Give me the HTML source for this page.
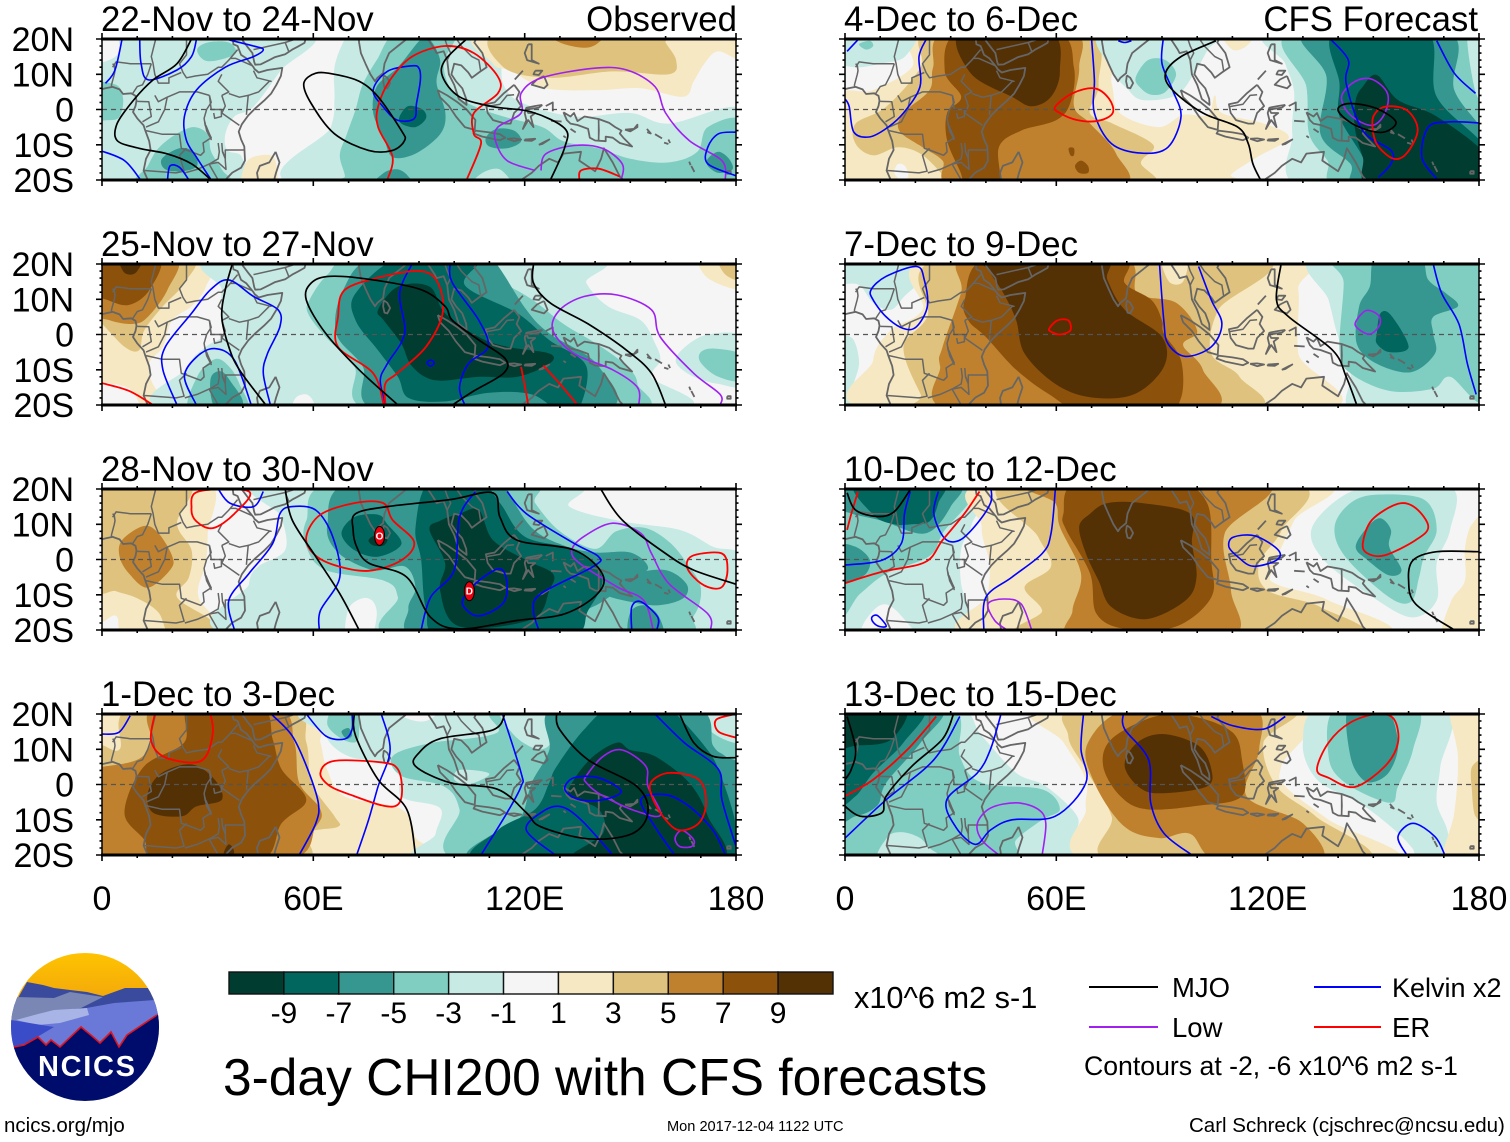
<!DOCTYPE html>
<html lang="en">
<head>
<meta charset="utf-8">
<title>3-day CHI200 with CFS forecasts</title>
<style>
html,body{margin:0;padding:0;background:#fff;}
svg{display:block;font-family:"Liberation Sans",sans-serif;}
</style>
</head>
<body>
<svg id="chart" xmlns="http://www.w3.org/2000/svg" width="1510" height="1142" viewBox="0 0 1510 1142">
<rect width="1510" height="1142" fill="#fff"/>
<defs>
<clipPath id="logoClip"><circle cx="85" cy="1027" r="74"/></clipPath>
<linearGradient id="logoSky" x1="0" y1="0" x2="0" y2="1"><stop offset="0" stop-color="#ffc400"/><stop offset="1" stop-color="#f2a60c"/></linearGradient>
</defs>
<g id="panels"></g>
<g id="colorbar"></g>
<text x="854" y="1008" font-size="30.7">x10^6 m2 s-1</text>
<g>
<line x1="1089" x2="1158" y1="987" y2="987" stroke="#000" stroke-width="2"/>
<text x="1172" y="997" font-size="27.5">MJO</text>
<line x1="1314" x2="1381" y1="987" y2="987" stroke="#0000ff" stroke-width="2"/>
<text x="1392" y="997" font-size="27">Kelvin x2</text>
<line x1="1089" x2="1158" y1="1027" y2="1027" stroke="#a020f0" stroke-width="2"/>
<text x="1172" y="1037" font-size="27.5">Low</text>
<line x1="1314" x2="1381" y1="1027" y2="1027" stroke="#ff0000" stroke-width="2"/>
<text x="1392" y="1037" font-size="27.5">ER</text>
<text x="1084" y="1075" font-size="26.65">Contours at -2, -6 x10^6 m2 s-1</text>
</g>
<text x="223" y="1095" font-size="51.5">3-day CHI200 with CFS forecasts</text>
<text x="4" y="1132" font-size="20.5">ncics.org/mjo</text>
<text x="667" y="1131" font-size="14.6">Mon 2017-12-04 1122 UTC</text>
<text x="1189" y="1132" font-size="20.5">Carl Schreck (cjschrec@ncsu.edu)</text>
<g clip-path="url(#logoClip)">
<rect x="10" y="952" width="150" height="50" fill="url(#logoSky)"/>
<polygon fill="#3a4a9c" points="0,1030 27,982 43,985 54,988 70,990 87,992 103,996 125,988 149,988 170,1000 170,1030"/>
<polygon fill="#7a86b4" points="5,1000 16,997 54,998 70,992 103,997 81,1008 49,1012 5,1024"/>
<polygon fill="#6a78d8" points="5,1024 49,1012 81,1009 114,1003 155,1000 170,1010 170,1060 0,1060"/>
<polygon fill="#a8b4e6" points="16,1020 38,1014 54,1010 87,1008 89,1015 60,1023 38,1025"/>
<polygon fill="#3b4cc8" points="5,1022 11,1020 54,1027 27,1043 14,1047 5,1050"/>
<polygon fill="#000c6c" points="5,1048 14,1047 24,1045 38,1037 46,1045 51,1040 60,1047 81,1027 92,1036 100,1043 111,1032 119,1047 127,1035 157,1015 170,1008 170,1110 5,1110"/>
<polyline fill="none" stroke="#e0141c" stroke-width="1.6" points="14,1047 24,1045 38,1037 46,1045 51,1040 60,1047 81,1027 92,1036 100,1043 111,1032 119,1047 127,1035 157,1015"/>
<text x="38" y="1076" font-size="29" font-weight="bold" fill="#fff" textLength="97" lengthAdjust="spacing">NCICS</text>
</g>
</svg>
<script>
/* ---------- colour scale ---------- */
const colorLevels = [-10,-8,-6,-4,-2,0,2,4,6,8,10];
const colorValues = ['#003c30','#01665e','#35978f','#80cdc1','#c7eae5','#f5f5f5','#f6e8c3','#dfc27d','#bf812d','#8c510a','#543005'];
const colorbarLabels = ['-9','-7','-5','-3','-1','1','3','5','7','9'];

/* ---------- axes ---------- */
const lonTicks = [0,60,120,180];
const lonTickLabels = ['0','60E','120E','180'];
const latTicks = [20,10,0,-10,-20];
const latTickLabels = ['20N','10N','0','10S','20S'];

/* ---------- panel titles ---------- */
const panelTitles = ['22-Nov to 24-Nov','25-Nov to 27-Nov','28-Nov to 30-Nov','1-Dec to 3-Dec','4-Dec to 6-Dec','7-Dec to 9-Dec','10-Dec to 12-Dec','13-Dec to 15-Dec'];
const panelNotes = ['Observed','','','','CFS Forecast','','',''];

/* ---------- filled CHI200 regions: [level, lon,lat pairs] ---------- */
const fills22Nov = [
[-2,[-2,22,58,22,50.5,10.8,43,.8,37.6,-2,35,-7,35.6,-11.6,39.7,-13.5,39,-22,-2,-22]],
[0,[-3,23,3,23,5,17,2,14,-3,14]],
[-2,[72,22,69,20,66,12,66,3,65,-5,58,-22,182,-22,182,0,161,-4,150,-1,134,-2,119,2,114,7,113,14,109,22]],
[-4,[-3,7,4,7,6,3,5,-2,2,-3,-3,-2]],
[-4,[27,17,30,19,36,19,38,16,33,14,29,14]],
[-4,[10,-22,13,-16,16,-11,21,-7,26,-5,30,-7,31,-12,34,-17,36,-22]],
[-4,[84,22,78,14,74,7,72,0,69.5,-7,67.5,-13,69,-19,68,-22,182,-22,182,-3.5,172,-5,169,-12,161,-15,150,-14,141,-11,131,-9,125,-5,114,-2,105.5,1,99.5,5,97,13,100,22]],
[-2,[105,-22,108,-18,113,-17,116,-22]],
[-6,[90.6,20,84,12,78,6.5,77,-1,80,-8,82.5,-13.5,89,-12.5,96,-7,97.5,-1,95,7.5,96,14,93,20]],
[-6,[77,-22,80,-18,84,-17,87,-19,88,-22]],
[-6,[109,-8,112,-5.5,117,-6,119,-9,115,-11,110,-10.5]],
[-6,[17,-14,22,-11,26,-12,27,-16,23,-17.5,18,-17]],
[-6,[172,-14,175,-12,178,-14,179,-17,175,-18,172,-16]],
[-8,[84.5,-2,87,1,91,0,92,-2.5,89,-5,85,-4]],
[2,[110,22,111,13,116,11,126,6,141,5.5,153,6,165,3.6,168,8,171,13,175,16.5,182,14,182,22]],
[2,[40,-22,41,-15,45,-13,49,-14,49,-22]],
[4,[113,22,114,12,127,9,145,10.8,161,10,163,14,160,19,159,22]],
[6,[127,22,130,19,137,17.5,141,19,142,22]]
];
const mjo22Nov = [
[25.4,20,21.3,13,14.5,8.4,9,2.7,4.3,-4,4.3,-8.8,10.5,-11,18.6,-12.6,25.4,-15.4,31,-20],
[60.7,10.3,57.3,7.4,59.4,1.7,66,-6.9,75.7,-11.6,82.5,-11.6,85.9,-8.8,85,-6,78.4,3.6,73,8,66,10],
[103.5,20,97.4,14,96.7,9.3,101.5,3.6,111,.8,122,-.7,131.4,-5.4,131.4,-10.7,127.3,-20]
];
const kelvin22Nov = [
[5.7,20,3.7,11.2,1,7.4],
[10.7,20,11.1,13,13.2,8.4,21.3,11.2,25.4,15,26.8,19.8],
[35,20,43,18,45.8,17,43,15,35,12,26.8,5.5,23.4,-2,24,-8.8,26.8,-13.5,31,-20],
[0,-11.8,6.4,-14.5,11,-20],
[18.6,-20,19.3,-16,22,-16.4,24.7,-20],
[88,12.4,81,10.8,77,5.5,79.8,.8,83.8,-3,88.6,-2.6,89.3,1.7,90.4,8.4,90,11.7],
[180,-6.4,175,-6.9,172,-10.7,172,-15.4,180,-18.8]
];
const er22Nov = [
[81,-20,82.5,-13.5,78.4,-5,78.4,.8,81.8,8.4,88,15,97.4,18,105.6,16,112.4,9.3,112.4,4.6,105.6,-1,105.6,-7,107.6,-9.7,103.5,-20],
[135.5,-20,136,-17.3,141,-16.8,147,-19]
];
const low22Nov = [
[123,-17.3,115,-14.5,111.7,-8.8,112.4,-5,119,-1,119,4.6,124.6,8.9,139.5,11.7,149,11.2,157,6.5,160,-1,166.7,-8.8,176,-14.5,177,-20],
[124.6,-17.3,126,-12.6,134,-10.2,142,-11,147.7,-15.4,147.4,-20]
];

const fills25Nov = [
[2,[-2,22,30,22,29.5,13.6,25.4,8,19.9,4,17.3,-3.5,13.5,-8,14.4,-14,20,-22,12.5,-22,8,-15.5,0,-13.5,-2,-13.5]],
[4,[-2,22,25,22,23.4,14.6,17.3,8,12,1.2,10.5,-4.5,6.4,-3.5,0,3,-2,4]],
[6,[-2,22,20.6,22,18.6,12.7,13,5,9,3,2.3,4,-2,7]],
[8,[-2,22,16,22,13.5,12.7,7.7,8.4,1.6,9.8,-2,12]],
[10,[5,22,6,18,8,17,10,18,11.5,22]],
[-2,[36,22,34,12.7,34,5,35,0,29.5,-3.5,24.7,-9,23.4,-22,159,-22,156,-12,158.5,-7.3,157,-2.5,153,4,143.6,8,137.5,14.6,136,22]],
[0,[54,-22,55,-18,58,-17,60,-19,60,-22]],
[-2,[182,-1,172,0,165,-4,163,-8,168,-12,175,-14,182,-14]],
[-4,[182,-6,174,-4,170,-5,170,-8,175,-12,182,-13]],
[2,[170,22,172,16,182,13,182,22]],
[4,[175,22,177,17,182,15.5,182,22]],
[-4,[25,-22,27,-12,32,-7,36,-9,39,-14,41,-22]],
[-6,[31,-18,31,-12,34,-10.5,37,-14,40,-19,38,-22,33,-22]],
[-4,[72,22,64,17,59,10,58.5,6,63.5,-.7,71.6,-9,78.4,-22,150,-22,152,-14,149,-9,141,-3,131,3,122,10,110,17,105,22]],
[-6,[78,22,68.5,12.7,66.5,.3,74,-9,80,-22,141.5,-22,141,-9,127,.3,120.5,7,112,20,108,22]],
[-8,[85,22,72,11.7,72,4,78.4,-4.5,84,-12,87,-18,97,-19,110,-16.5,122,-17,130,-22,135,-22,137.5,-9,127,-1.6,118,6,103,14,107,22]],
[-10,[78.4,7,84,13.6,93,13.6,97.4,6,107,-.7,115,-3.5,127,-5.4,127,-8.3,118,-12,107,-12,94.7,-13,88,-9,85,-2.6,80,4]]
];
const mjo25Nov = [
[37,20,35,12.7,34,5,36,-3.5,39,-10,46.5,-20],
[84,-20,73,-10,63.5,.3,58,9.8,59.4,14.6,64.8,16.5,77,15.5,90.6,12.7,97.4,8,99.5,4,107,-1.6,114.5,-6.9,114,-11,105.6,-16,99.5,-20],
[122.5,20,122.5,14.6,127.3,8.9,138,3,149,-4.5,156,-11,160,-20]
];
const kelvin25Nov = [
[21.3,-20,17.3,-10,18,-3.5,25.4,6,30.8,12.7,36,15.5,43,10.8,50,7,50.5,2.2,47,-5.4,45.8,-11,47.8,-20],
[26.8,-20,23.4,-12,26.8,-6.4,32,-4,37.6,-7.3,42.4,-20],
[88,20,84.5,11.7,85.9,.3,81,-8.3,79,-13,80.5,-20],
[98.8,20,99.5,14.6,107,4,109.6,-3.5,104,-8.3,101.5,-15,103,-20],
[92.3,-8,93.3,-7.3,94.3,-8,93.3,-9]
];
const er25Nov = [
[0,-13.8,7.7,-16,14.5,-20],
[80,-20,77,-11,67,-3.5,67,5,69,12.7,80,16.5,90.6,18,95.4,14.6,96.7,6,92,-3.5,83.8,-11,80.4,-14,80.5,-20],
[119,-9.2,120.5,-17,121,-20],
[125.3,-8.8,130,-14,135,-20]
];
const low25Nov = [
[152.4,-20,152,-15,145,-10,134,-5.4,128,1.2,130,7,137,10.8,146.3,11.2,156,7,158.5,-.7,168,-11,175.5,-17,175.5,-20]
];

const fills28Nov = [
[2,[-2,22,30,22,30,7.4,29.5,-1,27.4,-10.7,35,-22,8,-22,4,-16,-2,-15]],
[4,[-2,22,24.7,22,21.3,10.3,25.4,2.7,24.7,-5,21.3,-10.7,31,-17.3,32,-22,20,-22,16,-15,10,-11,4,-9,-2,-7]],
[6,[11.8,9.5,5.7,5.5,5,.8,7.7,-4,13,-8,19.3,-3,20,.8,16,7.5]],
[-2,[47,22,51,12,52,2.7,44.4,-2,41.7,-7,41,-22,182,-22,182,0,173.5,3.6,164,8.4,147.7,10.8,132.7,15,131,22]],
[0,[69.5,-22,70,-14,74,-11,77,-12,78,-16,76,-22]],
[-4,[66,22,58,11,58,3.6,63.5,-3,80,-6,84,-10.7,84,-22,160,-22,168,-16,170,-8,166,-1,161,5,154,9,146,8,140,3,130,8,123,16,120,22]],
[-6,[71,22,64,10,67,2,77,-3,86,-2,89,-8,87,-14,90,-22,132,-22,137,-15,142,-12,152,-5,155,-2,150,2,140,2,131,4,122,9,115,20,115,22]],
[-6,[140,-6,150,-4,160,-3,166,-7,165,-11,158,-13,150,-12,143,-10]],
[-6,[150,-22,150,-15,154,-13,158,-16,159,-22]],
[-8,[71.6,12,68,7.4,71.6,2.7,78.4,.8,85,4.4,81,10,78.4,12.7]],
[-8,[93,22,89,9,90.6,0,92,-14,97,-22,132,-22,138,-14.5,142,-5,134,2.7,120,6.5,113,16,107,22]],
[-10,[93,8.4,97.4,-1,96,-8.8,101.5,-19,122,-17,127,-8.8,128,-4,120.5,-.2,111,5.5,107,14,101.5,13,96,11]],
[-10,[75.7,5.5,78,7,81,6,80,4,77,4]]
];
const mjo28Nov = [
[52,20,54,11.2,60.7,.8,67.5,-9.7,73,-20],
[71.3,8.4,72,13,81,15,98.8,17,111,18.9,113,12,117.8,5.5,134,2.7,142,-4,140.7,-9.7,131.4,-15.4,117.8,-17.3,101.5,-19.7,93.3,-16.4,86.5,-5,75.7,-1,72.3,3.6],
[141.6,20,147.7,11.2,160,1.7,168,-3,180,-7]
];
const kelvin28Nov = [
[33,20,36.3,16,43,15,45.8,19.3],
[37.6,-20,36,-11.6,41.7,-4,48.5,4.6,50.5,13,54,15,60.7,14,65.5,6.5,67.5,-5,62,-14.5,61.7,-20],
[90.6,-20,93.3,-10.7,100,-3,101.5,12,106,19.3],
[102.8,-10.7,107,-6,113,-2.6,115,-7,113.7,-12.6,107,-16,102.8,-13.5],
[115,19.3,120.5,13,134,4.6,141,.8,139.5,-2,124.6,-9.7,122.5,-14.5,124,-20],
[150.4,-20,150.4,-13.5,153,-12,157.8,-16.4,157.5,-20]
];
const er28Nov = [
[25.4,14.6,27.4,19.3,41.7,19.3,37.6,13,31.5,8.9,26.8,10.8],
[58,6.5,62,12.7,71.6,16,79.8,16,82.5,11.2,88.6,5,85,-.2,75.7,-3.2,66,-1.6,60,1.7],
[166,-1.6,168,1.2,176,1.7,177.6,-3,176,-7.8,172,-7.8,168,-5]
];
const low28Nov = [
[172.8,-20,172,-15.4,161,-6.9,156,1.7,153,7.4,145,10.3,136.8,6.5,133.4,2.7,135.5,-1,146.3,-7.8,153.8,-11.6,156.5,-20]
];
const stormLons = [78.8,104.3];
const stormLats = [6.7,-9];
const stormMarks = ['O','D'];

const fills1Dec = [
[2,[-2,22,59,22,62,12,64,4,69,-3.4,85,-7,89,-15,90,-22,-2,-22]],
[4,[9,22,5,10,-2,9,-2,-22,55,-22,58,-14,67,-12,66,-9,59.5,.5,58,12,52.6,22]],
[6,[15.5,22,14,12,10,7,0,5,-2,5,-2,-22,51,-22,60.7,-12,62,-7,56,.5,54.6,12,49,22]],
[8,[25,22,23.4,12,11.8,5,6.4,-8,12,-15.7,16,-22,44.4,-22,51,-11,58,-4.3,51,4.3,48.5,12.7,45,22]],
[10,[13,-2.4,17,3.3,25.4,5.7,32,1.4,34,-4.3,26.8,-6.2,22.7,-9,14.5,-8]],
[10,[34.5,-20,36,-17,37.5,-19,36.5,-22]],
[-2,[65,22,63.5,14,70,8,84,5,85,-3.4,96,-6.7,94.7,-14,94,-22,182,-22,182,22]],
[0,[84,22,86,19,92,18,96,22]],
[-4,[66,22,64,17,68,13,72,12,73,15,72,22]],
[-4,[115,22,112,14.6,93,11.7,82.5,8,85,2.4,97,-.5,101.5,-7,103,-22,182,-22,182,22]],
[-2,[101,4,106,4,110,3,107,1,103,0,100,1.5]],
[-2,[113,22,117,14,124,10,128,13,127,22]],
[-2,[172,22,173,15,182,12,182,22]],
[-6,[129,22,127,9.8,122,.5,119,-9,112.4,-13,108,-22,182,-22,182,3,177,8,173.5,11,168,22]],
[-8,[145,22,136.8,15.5,129,5,127,.5,123,-7,112.4,-13,109,-22,178,-22,180,-12,175,4.3,171,11,163,20,160,22]],
[-10,[146.3,11.9,139.5,8,134,1.4,132.8,-3.3,141,-7,142.3,-13.8,134,-22,175,-22,172,-9,166.7,.5,157,8,150,9.8]],
[-6,[68,15,70,16,71,14,69.5,13]]
];
const mjo1Dec = [
[71.6,20,72,13.8,78.4,1.4,86.5,-7,89,-20],
[114.4,20,111,15.5,96,13,90,9,89,5.2,98.8,.5,112.4,-1.4,120.5,-8,124.6,-12,138,-15.4,150.4,-14,155,-8,151.8,-.5,138,7,130,15.5,129,20],
[164,20,168,11.9,173.5,8,180,7.6]
];
const kelvin1Dec = [
[0,14.3,4.8,14.8,8,19.5],
[48,20,54,13.8,58.4,4.3,61.4,-5.2,60.7,-11,56,-20],
[58,20,63.5,13.8,68.9,12.9,71,15.7,71,20],
[79.3,20,81.8,9.8,78.4,-.5,75.7,-10,72.3,-20],
[113.7,20,119,3.3,119,-.5,115,-8,107.6,-20],
[128.7,-20,120.5,-13,124.6,-8,130,-6.2,136,-10,145,-20],
[131.4,-1.4,134,1.9,141,1.9,147.4,-1.9,142.3,-4.3,135.5,-4.3],
[157,20,165.3,11.9,175,4.3,176,-4.3,180,-17.6],
[162.6,-20,157,-12,153,-4.3,160,-2.9,166.7,-6.2,173.5,-13,177,-20]
];
const er1Dec = [
[15,20,13.9,12.7,17.3,8,25.4,6.2,29.5,8,31.5,14.8,30.8,20],
[62,3.3,66,6.7,79.8,6.2,84,4.3,85.2,-1.4,84,-5.7,79.8,-6,71.6,-3.3,64.8,-.5],
[155.8,.5,161,3.3,169.4,1.4,171.5,-5.2,169.4,-11,164,-13,160,-10,156.5,-4.3],
[180,13.3,175,15,174.4,18.4,180,20]
];
const low1Dec = [
[137.5,2.4,142.3,8,147.7,9.8,154.4,5.2,155,-.5,158.6,-8.6,151.8,-7.6,142.3,-3.3,137.5,.5],
[162.7,-15.2,164.7,-13,168,-15.7,167.4,-17.6,164,-17.6]
];

const fills4Dec = [
[2,[-2,3,8,5.5,19,12,22,22,72,22,75.7,7.4,78,-1,89,-5,96,-1.5,103,-1.6,105,4,107,-1,119,-4,126,-8,117,-13.5,109.6,-18.5,109,-22,-2,-22]],
[0,[14,-18,15,-15.5,17,-16,18,-19,16,-20]],
[2,[107,22,110,17,114,18,116,22]],
[4,[24.6,22,21.5,12,11.7,.8,3,-4,3,-9.7,8,-13,15,-10.7,21.5,-12.6,27.7,-18.5,30,-22,85,-22,84,-15,87.5,-10,76,-4,69.5,-1,72,7.4,68,22]],
[6,[29,22,25,12,24,5.5,16.6,-1,15.4,-6,22,-10.7,27.7,-14.5,32,-22,77.5,-22,77,-12.6,69.6,-4,65,1,66.5,12,64,22]],
[8,[32.6,22,28.3,11,33,3.6,29,-1,29,-8.8,32.6,-17.3,35,-22,43.7,-22,43.7,-10.7,50,-6,60,-3,64,2,65,12,60,22]],
[10,[33,22,35.7,10.3,47.4,3.6,53,.9,58.5,3.6,61,11,58,22]],
[8,[65.3,-16,67,-14.5,69,-16,69,-18,66.5,-18]],
[8,[63.5,-11,65,-11,65,-13,64,-13]],
[-2,[-2,22,19,22,17,15,10,13,3,12,-2,14]],
[-2,[73,22,76,11,80,6,84.4,2.7,94,4,99,10,103,17,106,22]],
[-4,[82.5,9,86,14,91,14,94,10,91,5,87,4.2,84,6]],
[-4,[4,18.5,7,19.5,8,18,6,17]],
[-2,[122,22,125,13,127.5,5,127,-7,130,-22,182,-22,182,22]],
[-4,[127,22,131,6.5,131.8,-7,137,-14.5,141,-22,182,-22,182,22]],
[-2,[176.7,22,179,5,182,4,182,22]],
[-6,[131,22,136.7,9.3,135,-7,143.5,-15.4,146.5,-22,182,-22,182,-8,173,5.5,171,22]],
[-8,[139,22,140.4,7.4,140.4,-2,147,-13.5,150,-22,182,-22,182,-11,168,3.6,165,22]],
[-10,[147,6.5,151,9.8,157,2.7,168,-2,182,-13,182,-22,150,-22,147,-13.5,144.7,-5,145,2.7]]
];
const mjo4Dec = [
[105.3,19.5,95.4,15,91,10.3,93,5.5,101.6,-1,111.5,-5,114.5,-9.7,115.8,-15.4,118,-20],
[140,.3,143.5,1.7,150.9,.3,156.4,-3.5,153,-6.4,147,-5.4,142,-2.6]
];
const kelvin4Dec = [
[3.7,19.8,.6,16.5],
[23,19.8,21,15,21.3,6.5,16.6,-1,11.7,-5.4,6.8,-7.8,2.5,-6.4,1.2,.8,0,3],
[70,20,70.8,8.4,70.8,-1,75.7,-9.7,84.4,-12.4,91.7,-10.7,95.4,-2,93,5.5,90,13,90.3,19.8],
[77.6,19.5,79.4,19,81.3,19.5],
[138,19.8,142.9,14,142.3,7.4,147,-6,155,-11.6,155,-15.4,151.5,-19.2],
[168,19.5,173,10.3,179,4.6],
[168,-19.7,163.8,-13.5,165.6,-5,171.8,-3.5,180,-3.8]
];
const er4Dec = [
[59.7,.8,64.6,4.6,70.8,6,75,3,76,-1,72,-3.2,66,-3,61,-1],
[150,-2,153.3,.8,159.5,-.2,162.6,-5.8,159.5,-12.4,155.8,-14,151.5,-10.6,150,-6.8]
];
const low4Dec = [
[141,3.6,144.7,7.9,149.6,8.6,154,4.6,153.3,-1,149.6,-4.5,143.5,-1.6]
];

const fills7Dec = [
[-2,[-2,22,22,22,22,16,17,11,13,7,8,9,4,14,-2,15]],
[-2,[-2,-3,2,-1,4,-8,2,-16,3,-22,-2,-22]],
[2,[26.5,22,22,7,13,1.2,8,-7.3,10.5,-22,133.5,-22,128.7,-5.4,128.7,12.7,125,22]],
[4,[29,22,23.4,5,16.6,-3.5,21.5,-17,25,-22,112.7,-22,112,-12,104,-5.4,106,7,117.6,22]],
[2,[90,22,92,15,96,15,97,22]],
[6,[35,22,33,12,27.7,-3.5,27,-9,31.4,-22,101.6,-22,101.6,-10,96,-3,100,1,94,9,83,11.7,78,22]],
[8,[41,22,34,10,35,4,40,-.7,48.6,-10,58,-17,68,-22,90,-22,95.4,-18,95.4,-7.3,90.5,.3,90,4,87,9.8,79.4,14.6,78,22]],
[10,[40,22,41,18,45,11.7,48.6,4,51,-5.4,59.7,-14,69.6,-17.8,82,-17,90.5,-9.2,90,-.7,79.4,7,74.5,15.5,72.7,22]],
[-2,[133.6,22,137.3,9.8,139.7,.3,143.5,-11,145.3,-22,182,-22,182,22]],
[-4,[140.4,22,141.6,14.6,140.4,-4.5,143.5,-11,154.6,-16,166.9,-15.4,171.8,-12,182,-17.8,182,22]],
[-6,[150.9,22,149,13.6,146,8,145.3,-2.6,151,-8.3,160.7,-10.7,167.5,-5.4,167,.3,167,5,174,8,170.6,11.7,165.6,15.5,163,22]],
[-8,[151,.3,152,6,155,5.5,160,-3.5,154.6,-5,151,-2.6]]
];
const mjo7Dec = [
[123.8,20,122.5,9.8,126,5,138.5,-4.5,142.3,-12,145.3,-20]
];
const kelvin7Dec = [
[7.4,12.7,11.7,16.5,20.3,19.3,22.5,15.5,23.4,8,20.3,2.2,16.6,1.7,11.7,5,8,9.8],
[89.3,20,90.5,4,91.7,-2.6,96.7,-6.2,104,-3.5,107,3,104,9.8,100.4,19.3],
[167,20,169.4,11.7,174.3,3,176.7,-8.3,179.2,-17]
];
const er7Dec = [
[58,1.7,60.3,4,63.4,4,64,1.2,61,0,58.5,.8]
];
const low7Dec = [
[145,3.6,148,6.8,151.4,5.5,151.8,2.7,149,.1,145.6,1.7]
];

const fills10Dec = [
[-2,[-2,22,38,22,36,10,33,3,33,-7,36,-18,30,-22,22,-22,14,-14,10,-13,6,-17,3,-22,-2,-22]],
[-4,[36,22,27.7,7.4,24,1,11.7,-4,4.3,-9.7,-2,-15,-2,22]],
[-6,[-2,3.6,3,3.6,7,0,6,-4,2,-6,-2,-6]],
[-6,[-2,22,31,22,30,15,22.8,7.4,10.5,11,2,13,-2,15]],
[-8,[3,22,8,12.7,14,10,19,10,24,10.8,26.5,16,27,22]],
[2,[42,22,38.8,9.3,41,-1,40.6,-10,39,-22,150,-22,137.3,-11.6,122.5,-7,121.3,-3,127.5,11,133.6,22]],
[4,[46.8,22,54.8,6.5,58.5,-2,51,-7.8,56,-14.5,53.6,-22,142.5,-22,135,-13.5,120,-8.8,117.6,-1,124,8.4,126.5,22]],
[6,[53,22,59.7,16,61,9.3,67,-4,64.6,-14.5,66,-22,109,-22,109.6,-8.8,107.8,7.4,118.8,22]],
[8,[66,22,62,13,62.8,8.4,69.6,-4,71.4,-15.4,79.4,-19.7,94,-19,104,-10.7,104,-.2,102.8,16,93,22]],
[10,[66.5,9.3,69.6,13,74.5,16,84.4,16,98,13,98.5,4.6,99.8,-5,96.7,-11.6,85.6,-16.9,75.7,-13.5,72,-6,68.4,1.7]],
[-2,[149.6,20.5,139.8,17,132.4,8.4,136,-.2,148.4,-9.7,160.7,-16.4,168,-11.6,168,-1,171.8,8.4,172,20.5]],
[2,[170,-22,172,-12,176,-6,176,3,178,10,182,10,182,-22]],
[-4,[139,9.3,142,.8,154.5,-10.7,160.7,-12,163,-5,164.4,.8,168,8.4,164.4,17,151,18.4,143.5,16]],
[-6,[145,3.6,148.4,9.3,152,11.7,155,8.4,154.5,3.6,158,-3,154.5,-4.5,148.4,-.2]]
];
const mjo10Dec = [
[.6,18.9,3,14,9.2,12.2,14,13.6,18.5,19.8],
[180,2.2,168,2.2,161.3,-.2,160,-5.9,162,-12.6,173,-20]
];
const kelvin10Dec = [
[18.5,19.3,16.9,13,16,4.6,10.5,-.2,0,-1.6],
[26.5,19.3,25.2,13,28.3,6,32.6,5.5,37.6,10.3,41.3,16,41.5,19.8],
[59.7,19.8,58.5,7.4,56,1.7,47.4,-5,40,-10.7,39.4,-20],
[109,3.6,110.2,6.3,116.4,6.7,123,2.7,122.5,-.2,115.8,-1.9,111.5,.8],
[7.6,-16.4,9.2,-15.9,11.7,-18.8,9.8,-19,8,-17.8]
];
const er10Dec = [
[3.7,19.3,1.8,13,.6,8.4],
[0,-6.7,10.5,-3.5,22.8,-.7,27.7,5.5,33.9,13,38.2,19.3],
[147,4.6,149.6,11.2,157,15.8,162,14.6,165.6,9.3,162,5.5,153.3,1.2,148.4,1.7]
];
const low10Dec = [
[46,-20,42.5,-17.3,40.6,-12.6,45,-11.2,50,-12.6,53,-20]
];

const fills13Dec = [
[-2,[31,22,38.8,13.8,48.6,3.3,57,-.5,65.9,-9,64.6,-14.8,61,-22,-2,-22,-2,22]],
[-4,[30,22,32.6,8,38.8,.5,56,-1.4,61,-7,56,-10,48.6,-15.7,45,-22,-2,-22,-2,22]],
[-2,[10,-22,12,-15,16,-13.5,21,-15,24,-18,28,-22]],
[-6,[27,22,21.5,11.9,11.7,.5,9.2,-6,3,-9,-2,-8,-2,22]],
[-8,[22,22,16.6,11.9,8,3.3,3,-3.3,-2,-4,-2,22]],
[-10,[17,22,13,12.7,3,11,-2,11,-2,22]],
[2,[56,22,62,12,68.4,1.4,68.4,-7,70.8,-22,155,-22,137.3,-10,125,-.5,123.8,5.2,129.3,22]],
[4,[67.7,22,63.4,13.8,68.4,4.3,75.7,-9,77,-22,147.2,-22,133.6,-9,122.5,-.5,118.8,11.9,126.2,22]],
[6,[82,22,69,11.9,70.8,.5,79.4,-12,89.3,-15.2,98,-14,106.5,-22,134.8,-22,130,-11,114,-3.3,117.6,10,115,22]],
[8,[88,19.3,75.7,12.9,73.3,5.2,78.2,-3.3,85.6,-7,100.4,-6,112.7,-3.3,112.7,7,110,14.8,99,19.3]],
[10,[79.4,5.2,83,11.9,90.5,14.3,100.4,11,104,4.3,102.8,-.5,91.7,-2.4,84.4,-1.4]],
[-2,[136,22,130,12,134,1.4,146,-5.2,155,-12,161,-18,163,-22,172,-22,171,-13,168,-5,169,5,170.5,22]],
[2,[172,22,174,8,173,-8,170,-22,182,-22,182,22]],
[4,[178,5,182,6,182,-9,179,-9,178,-2]],
[-4,[139.8,22,137.3,8,142,.5,154.6,-5.2,157,-.5,161.3,10,162,22]],
[-6,[143,22,143.5,8,147,1.4,151,1,155,4.3,157,12,153.3,22]]
];
const mjo13Dec = [
[30.8,20,27.7,12.9,19,5.2,11.7,-3.3,10.5,-8,4.3,-9,0,-6.2],
[.6,19.3,3,10,1.8,4.3,0,1.4]
];
const kelvin13Dec = [
[0,-15.2,11.7,-4.3,25.2,7,32.6,19.3],
[44.3,20,41.3,10,37.6,3.3,28.9,-4.3,31.4,-12,37,-17,41.3,-12.9,47.4,-10,59.7,-9,68.4,.5,67,10,67.7,20],
[79,20,79.4,15.7,86.2,7,86.8,-5.2,90.5,-13.8,98.5,-20],
[104,19.3,110,16.7,118.8,15.7,125,19.3],
[159.5,-20,157,-14.8,161.3,-11,167.5,-14.8,170.3,-20]
];
const er13Dec = [
[0,-3.3,8,1.4,17.8,10,25.9,19.3],
[134,4.3,137.3,11.9,143.5,17.6,151,20,155.8,18.6,157,11.9,153.3,5.2,144.7,-.7,137.3,1.9]
];
const low13Dec = [
[43.7,-20,38.8,-15.7,37.6,-11,41.3,-6.7,48.6,-5.2,54.8,-7,57,-11,56,-20]
];

/* ---------- map outlines (lon,lat) ---------- */
const coastlines = [
[37,21,37.3,18.5,38.5,18,39.5,15.5,41,14.5,43,12,43.3,11.5,44.5,10.5,47,11.2,51.2,11.8,50.8,9.5,49.5,7,48,4.5,46,2.5,43.5,.3,41.5,-1.7,39.7,-4.2,38.8,-6.3,39.5,-8.5,40.4,-10.5,40.6,-14.5,39.5,-16.5,37,-17.9,35.2,-19.8,34.8,-21],
[39,21,40,19.5,41.5,17.5,42.7,16,43.2,13.5,43.5,12.7,45,12.8,47.5,14,49,14.8,52,15.7,54,17,55.5,17.8,57.5,18.9,57.8,20,58.7,21],
[-1,5.5,1,6,3,6.4,5,5.7,6,4.4,8.3,4.6,9.5,3.9,9.8,2.5,9.5,1,8.8,-.7,10,-2.5,11.8,-4.5,12.3,-6,13.4,-9,13.8,-11.5,12.5,-14,11.8,-17.3,13,-20,13.5,-21],
[49.3,-12,50.4,-15,49.4,-18,48.6,-21,44.5,-21,44,-18,44.8,-16,47.5,-15,49.3,-12],
[72.8,21,73,19,73.5,16,74.8,13,76.2,10,77.5,8,78.2,9,79.8,10.3,80.2,13,81.5,16,84,18,86.5,20,87,21.5],
[80,9.7,79.8,8,80.2,6.2,81,6,81.8,7.5,81,9,80,9.7],
[90,22,91,22.5,92.5,20,94.5,17,95,16,97,16.5,98,14,98.5,10,100,7,101.3,3,103.5,1.3,103.4,3,102.3,6,100.5,8,99.2,10,100,13,102,12.5,104,10.5,105,9,107,10.5,109.2,12,108,16,105.7,19,107,21.5],
[95.3,5.5,98,4,101,2,103.5,0,106,-3,105.8,-5.8,103,-5,100.5,-2,98.5,1,96,3.5,95.3,5.5],
[117,7,118.5,5,117.7,3,119,1,117,-1,116,-4,114.5,-4,111,-3,109.5,-1,109,1.5,111.5,2,114,4.5,117,7],
[106,-6,110,-6.5,113,-7,114.5,-8,113,-8.7,108,-7.7,105.5,-6.8,106,-6],
[115,-8.3,117,-8.2,119,-8.5,117,-9,115,-8.3],
[120,-8.5,123,-8.3,122,-8.9,120,-8.8,120,-8.5],
[124,-10,126,-9,127,-8.5,125,-9.8,124,-10],
[125,1.3,123,1,120.5,.5,120,-1,120.5,-3,119.5,-5.5,121,-3,122.5,-5,121.7,-2,123,-1,121,-1,120.5,0,124,.5,125,1.3],
[121,18.5,120,16,120.7,14,124,13,122,14,122,16,122,18.5,121,18.5],
[125.5,9.5,126.5,7,125.5,6,122,7,123.5,8.5,125.5,9.5],
[119.5,11,117.2,8.5],
[123,11,125,11,124,9.8,122.5,10,123,11],
[131,-.8,133,-2,134,-1,135,-3.3,137,-2,141,-2.7,144,-3.8,145.7,-5,147.5,-6,147,-6.8,148,-8,150.5,-10.5,147,-9.5,145,-8,143,-7.7,143,-9,140,-8.8,138.5,-8,138,-5.5,135,-4.4,133,-4,132,-3,131,-.8],
[148.5,-5.7,151,-5.5,152,-4.3,152,-5,150,-6.2,148.5,-5.7],
[154.7,-5.5,155.8,-6.8,154.8,-6.4],
[157,-7,159,-8.2],[159.6,-9.4,160.8,-9.8],[160.8,-8.5,161.3,-9.5],[166.7,-14.8,167.1,-15.8],[167.3,-16,168.2,-17.7],
[177.5,-17.5,178.5,-17.5,178.5,-18.2,177.5,-18.2,177.5,-17.5],
[126,1,128,2,128,-.5],[127.5,-3.2,130.5,-3.4],[133,-5.5,134.5,-6.5],[131,-7.5,131.7,-8],
[119,-21,119,-20,122,-18,124,-16,127,-14,129.5,-15,131,-12.5,136,-12,135.5,-14.5,140,-17.5,141.7,-14,142.5,-11,145,-15,147,-19,149,-21],
[164,-20,165.5,-21]
];
const borders = [
[24,21,24,15.5,22,13,23,10.5,24,9,26.5,9.5,30,10,33,12,34,12,36,14,38.5,17],
[15.5,21,14,15,14.5,13,15,10,16,7.5,19,7.5,19,9,22.5,10.5],
[3,13,3.5,12.5,3.7,11,3.5,10,2.7,7,2.7,6.3],
[14,13,8,13,4,13.5,3,12],
[14,13,13,10,11.5,7,10,6.5,8.7,4.5],
[15,4,16,2.2,18.5,3.5,22,5,27,5,30.5,4],
[18.5,3.5,17.8,0,16,-3.5,12.5,-5],
[30.5,4,31,2,29.7,0,29,-2.5,29.3,-4.5,31,-8,28.7,-9.5,29,-12,28,-13,24,-11.5,22.5,-11,22,-7,17,-7,12.5,-6],
[12,-17.3,21,-18,23.3,-17.5,22,-13,24,-11],
[23.5,-18,27,-17,30.4,-15.5,33,-14,33.3,-12,33,-9.5],
[34,-1,39,-4.5],[34,4,35,1,34,-1],
[36,4.5,39,3.5,41.5,4,41,-1.5],
[41.5,4,44.5,5,47.5,8,48,8,44,9,43,11],
[34,4,36,5,33,8,34,10],
[40.4,-11.5,35,-11.5,35,-14.5,35.2,-17,33,-15,30.4,-15.5,33,-20],
[10,2.3,13.3,2.2,14,-2,11.5,-3.5],
[36.5,14.5,38,14.5,42.5,12.5],
[43,17,52,19,53,16.5],[52,19,55,20],
[30.5,4,31,0,33.9,0,33.9,-2,32,-2.5,31.7,-1],
[34,-9.5,34.2,-12,35,-14,34.3,-12],
[29.2,-3.5,29.7,-6,31,-8.5,30.5,-7,29.5,-4.5],
[97,21,98,18,99,16,98,14],[100,21,102,18,105,15,107,14,107.5,11],[109,0.8,113,1.5,115,4,117,4.2],[141,-2.7,141,-9],
[141,-2.7,141.1,-6,141,-9]
];

/* ---------- assemble ---------- */
const panelFills = [fills22Nov,fills25Nov,fills28Nov,fills1Dec,fills4Dec,fills7Dec,fills10Dec,fills13Dec];
const panelMjo = [mjo22Nov,mjo25Nov,mjo28Nov,mjo1Dec,mjo4Dec,mjo7Dec,mjo10Dec,mjo13Dec];
const panelKelvin = [kelvin22Nov,kelvin25Nov,kelvin28Nov,kelvin1Dec,kelvin4Dec,kelvin7Dec,kelvin10Dec,kelvin13Dec];
const panelEr = [er22Nov,er25Nov,er28Nov,er1Dec,er4Dec,er7Dec,er10Dec,er13Dec];
const panelLow = [low22Nov,low25Nov,low28Nov,low1Dec,low4Dec,low7Dec,low10Dec,low13Dec];

const NS = 'http://www.w3.org/2000/svg';
const LEFT_X = [102,845];
const TOP_Y = [39,264,489,714];
const SCALE_X = 634/180;
const SCALE_Y = 141/40;

function node(tag, attrs, parent){
  const el = document.createElementNS(NS, tag);
  for (const k in attrs) el.setAttribute(k, attrs[k]);
  parent.appendChild(el);
  return el;
}
function axisX(col, lon){ return LEFT_X[col] + lon*SCALE_X; }
function axisY(row, lat){ return TOP_Y[row] + (20-lat)*SCALE_Y; }
function colorFor(level){ return colorValues[colorLevels.indexOf(level)]; }

function toPoints(flat, col, row){
  const pts = [];
  for (let i=0;i<flat.length;i+=2) pts.push([axisX(col,flat[i]), axisY(row,flat[i+1])]);
  return pts;
}
function smoothPath(pts, closed){
  const n = pts.length;
  if (n < 3) return 'M' + pts.map(p=>p[0].toFixed(1)+' '+p[1].toFixed(1)).join('L');
  const at = i => closed ? pts[(i+n)%n] : pts[Math.max(0,Math.min(n-1,i))];
  let d = 'M'+pts[0][0].toFixed(1)+' '+pts[0][1].toFixed(1);
  const segs = closed ? n : n-1;
  for (let i=0;i<segs;i++){
    const p0=at(i-1),p1=at(i),p2=at(i+1),p3=at(i+2);
    const c1=[p1[0]+(p2[0]-p0[0])/6,p1[1]+(p2[1]-p0[1])/6];
    const c2=[p2[0]-(p3[0]-p1[0])/6,p2[1]-(p3[1]-p1[1])/6];
    d+='C'+c1[0].toFixed(1)+' '+c1[1].toFixed(1)+' '+c2[0].toFixed(1)+' '+c2[1].toFixed(1)+' '+p2[0].toFixed(1)+' '+p2[1].toFixed(1);
  }
  return d + (closed?'Z':'');
}
function isClosedContour(flat){
  const inside = (lon,lat)=> Math.abs(lat)<18.5 && lon>0.5 && lon<179.5;
  return inside(flat[0],flat[1]) && inside(flat[flat.length-2],flat[flat.length-1]);
}
function straightPath(flat, col, row){
  return 'M'+toPoints(flat,col,row).map(p=>p[0].toFixed(1)+' '+p[1].toFixed(1)).join('L');
}

const defs = document.querySelector('defs');
const root = document.getElementById('panels');

panelTitles.forEach((title, idx) => {
  const col = idx < 4 ? 0 : 1;
  const row = idx % 4;
  const x0 = axisX(col,0), x1 = axisX(col,180), y0 = axisY(row,20), y1 = axisY(row,-20);

  const clip = node('clipPath',{id:'panelClip'+idx},defs);
  node('rect',{x:x0,y:y0,width:x1-x0,height:y1-y0},clip);

  const g = node('g',{},root);
  
  

  const plot = node('g',{'clip-path':'url(#panelClip'+idx+')'},g);
  
  

  const base = node('rect',{x:x0,y:y0,width:x1-x0,height:y1-y0,fill:colorFor(0)},plot);
  
  

  panelFills[idx].forEach(shape => {
    const el = node('path',{d:smoothPath(toPoints(shape[1],col,row),true),fill:colorFor(shape[0])},plot);
    
    
  });

  coastlines.forEach(line => {
    const el = node('path',{d:straightPath(line,col,row),fill:'none',stroke:'#666','stroke-width':1.8,'stroke-linejoin':'round'},plot);
    
    
  });
  borders.forEach(line => {
    const el = node('path',{d:straightPath(line,col,row),fill:'none',stroke:'#666','stroke-width':1.5,'stroke-linejoin':'round'},plot);
    
    
  });

  const eq = node('line',{x1:x0,x2:x1,y1:axisY(row,0),y2:axisY(row,0),stroke:'#555','stroke-width':1.3,'stroke-dasharray':'5 4'},plot);
  
  

  panelLow[idx].forEach(flat => {
    const el = node('path',{d:smoothPath(toPoints(flat,col,row),isClosedContour(flat)),fill:'none',stroke:'#a020f0','stroke-width':1.6},plot);
    
    
  });
  panelKelvin[idx].forEach(flat => {
    const el = node('path',{d:smoothPath(toPoints(flat,col,row),isClosedContour(flat)),fill:'none',stroke:'#0000ff','stroke-width':1.6},plot);
    
    
  });
  panelEr[idx].forEach(flat => {
    const el = node('path',{d:smoothPath(toPoints(flat,col,row),isClosedContour(flat)),fill:'none',stroke:'#ff0000','stroke-width':1.8},plot);
    
    
  });
  panelMjo[idx].forEach(flat => {
    const el = node('path',{d:smoothPath(toPoints(flat,col,row),isClosedContour(flat)),fill:'none',stroke:'#000','stroke-width':1.7},plot);
    
    
  });

  if (idx === 2) {
    stormLons.forEach((lon,i) => {
      const cx = axisX(col,lon), cy = axisY(row,stormLats[i]);
      const s = node('g',{},plot);
      
      
      node('ellipse',{cx:cx,cy:cy,rx:5,ry:9.5,fill:'#e8000c',stroke:'#000','stroke-width':1},s);
      const t = node('text',{x:cx,y:cy+3.5,'font-size':10,'font-weight':'bold','text-anchor':'middle',fill:'#fff'},s);
      t.textContent = stormMarks[i];
    });
  }

  /* frame */
  const frameTop = node('line',{x1:x0-1,x2:x1+1,y1:y0,y2:y0,stroke:'#000','stroke-width':3},g);
  
  
  const frameBottom = node('line',{x1:x0-1,x2:x1+1,y1:y1,y2:y1,stroke:'#000','stroke-width':3},g);
  
  
  const frameLeft = node('line',{x1:x0,x2:x0,y1:y0,y2:y1,stroke:'#000','stroke-width':1.5},g);
  
  
  const frameRight = node('line',{x1:x1,x2:x1,y1:y0,y2:y1,stroke:'#000','stroke-width':1.5},g);
  
  

  /* ticks */
  let tickPath = '';
  for (let lon=0; lon<=180; lon+=10){
    const major = lon%60===0, len = major?6:3, x = axisX(col,lon);
    tickPath += 'M'+x.toFixed(1)+' '+(y0-len)+'V'+y0+'M'+x.toFixed(1)+' '+y1+'V'+(y1+len);
  }
  const xTicks = node('path',{d:tickPath,stroke:'#000','stroke-width':1.6,fill:'none'},g);
  
  
  tickPath = '';
  for (let lat=-20; lat<=20; lat+=2){
    const major = lat%10===0, len = major?6:2.5, y = axisY(row,lat).toFixed(1);
    tickPath += 'M'+(x0-len)+' '+y+'H'+x0+'M'+x1+' '+y+'H'+(x1+len);
  }
  const yTicks = node('path',{d:tickPath,stroke:'#000','stroke-width':1.6,fill:'none'},g);
  
  

  /* titles */
  const tt = node('text',{x:x0-1,y:y0-8,'font-size':34.8},g);
  
  
  tt.textContent = title;
  if (panelNotes[idx]) {
    const nt = node('text',{x:x1+(col===0?1:-1),y:y0-8,'font-size':34.8,'text-anchor':'end'},g);
    
    
    nt.textContent = panelNotes[idx];
  }

  /* latitude labels, left column only */
  if (col === 0) {
    latTicks.forEach((lat,i) => {
      const t = node('text',{x:74,y:axisY(row,lat)+12,'font-size':34,'text-anchor':'end'},g);
      
      
      t.textContent = latTickLabels[i];
    });
  }
  /* longitude labels, bottom row only */
  if (row === 3) {
    lonTicks.forEach((lon,i) => {
      const t = node('text',{x:axisX(col,lon),y:910,'font-size':34,'text-anchor':'middle'},g);
      
      
      t.textContent = lonTickLabels[i];
    });
  }
});

/* colour bar */
const bar = document.getElementById('colorbar');
const BAR_X = 229, BAR_W = 604/11, BAR_Y = 972, BAR_H = 22;
colorValues.forEach((c,i) => {
  const r = node('rect',{x:BAR_X+i*BAR_W,y:BAR_Y,width:BAR_W,height:BAR_H,fill:c,stroke:'#111','stroke-width':1.4},bar);
  
  
});
colorbarLabels.forEach((label,i) => {
  const t = node('text',{x:BAR_X+(i+1)*BAR_W,y:1023,'font-size':30,'text-anchor':'middle'},bar);
  
  
  t.textContent = label;
});
</script>
</body>
</html>
